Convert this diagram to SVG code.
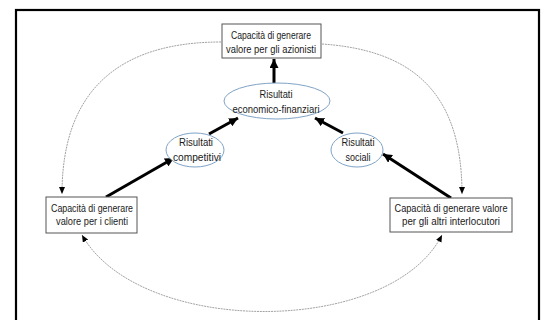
<svg xmlns="http://www.w3.org/2000/svg" width="543" height="320" viewBox="0 0 543 320">
<style>
.box{fill:#fff;stroke:#555;stroke-width:1}
.ell{fill:#fff;stroke:#7fa3c6;stroke-width:1}
text{font-family:"Liberation Sans",Arial,sans-serif;font-size:11px;fill:#1a1a1a;text-anchor:middle}
.thick{stroke:#000;stroke-width:3;fill:none}
.thin{stroke:#8a8a8a;stroke-width:0.8;fill:none;stroke-dasharray:2 0.8}
</style>
<defs>
<marker id="ah" markerUnits="userSpaceOnUse" markerWidth="10" markerHeight="9" refX="9" refY="4.5" orient="auto">
<path d="M0,0 L9,4.5 L0,9 z" fill="#000"/>
</marker>
<marker id="as" markerUnits="userSpaceOnUse" markerWidth="7" markerHeight="6" refX="7" refY="3" orient="auto-start-reverse">
<path d="M0,0 L7,3 L0,6 z" fill="#000"/>
</marker>
</defs>
<rect x="16" y="10" width="523" height="318" fill="#fff" stroke="#000" stroke-width="2.2"/>
<g id="connectors">
<path class="thin" d="M221,42 C125,42 62,85 62,194" marker-end="url(#as)"/>
<path class="thin" d="M322,44 C410,50 462,90 462,194" marker-end="url(#as)"/>
<path class="thin" d="M82,235 C140,337 390,337 442,235" marker-start="url(#as)" marker-end="url(#as)"/>
<line class="thick" x1="274" y1="83" x2="274" y2="59" marker-end="url(#ah)"/>
<line class="thick" x1="209" y1="134" x2="238" y2="118" marker-end="url(#ah)"/>
<line class="thick" x1="343" y1="133" x2="315" y2="118" marker-end="url(#ah)"/>
<line class="thick" x1="106" y1="197" x2="174" y2="158" marker-end="url(#ah)"/>
<line class="thick" x1="451" y1="198" x2="383" y2="154" marker-end="url(#ah)"/>
</g>
<g id="azionisti">
<rect class="box" x="222" y="24" width="99" height="34"/>
<text x="271" y="39" textLength="80" lengthAdjust="spacingAndGlyphs">Capacità di generare</text>
<text x="271" y="53" textLength="90" lengthAdjust="spacingAndGlyphs">valore per gli azionisti</text>
</g>
<g id="economico">
<ellipse class="ell" cx="277" cy="101" rx="53" ry="18"/>
<text x="276" y="98" textLength="33" lengthAdjust="spacingAndGlyphs">Risultati</text>
<text x="276" y="113" textLength="87" lengthAdjust="spacingAndGlyphs">economico-finanziari</text>
</g>
<g id="competitivi">
<ellipse class="ell" cx="195" cy="150" rx="29" ry="17"/>
<text x="196" y="146" textLength="34" lengthAdjust="spacingAndGlyphs">Risultati</text>
<text x="197" y="161" textLength="48" lengthAdjust="spacingAndGlyphs">competitivi</text>
</g>
<g id="sociali">
<ellipse class="ell" cx="357" cy="150" rx="26" ry="17"/>
<text x="358" y="146" textLength="33" lengthAdjust="spacingAndGlyphs">Risultati</text>
<text x="358" y="161" textLength="25" lengthAdjust="spacingAndGlyphs">sociali</text>
</g>
<g id="clienti">
<rect class="box" x="46" y="197" width="91" height="36"/>
<text x="92" y="212" textLength="82" lengthAdjust="spacingAndGlyphs">Capacità di generare</text>
<text x="92" y="225" textLength="72" lengthAdjust="spacingAndGlyphs">valore per i clienti</text>
</g>
<g id="interlocutori">
<rect class="box" x="390" y="198" width="122" height="34"/>
<text x="451" y="212" textLength="113" lengthAdjust="spacingAndGlyphs">Capacità di generare valore</text>
<text x="451" y="225" textLength="98" lengthAdjust="spacingAndGlyphs">per gli altri interlocutori</text>
</g>
</svg>
